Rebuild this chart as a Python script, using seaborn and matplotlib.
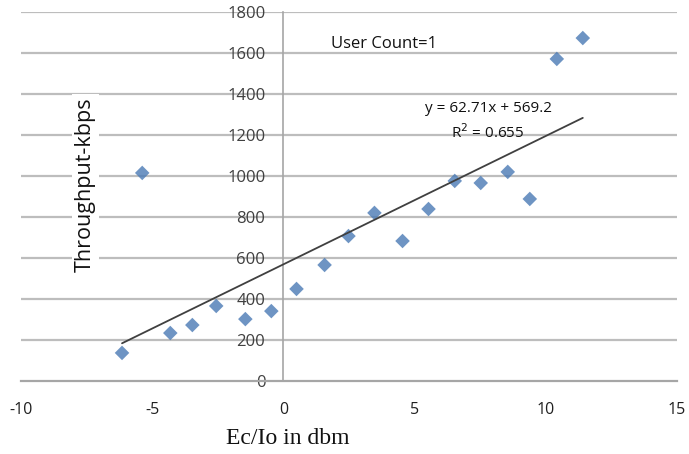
import numpy as np
import pandas as pd
import seaborn as sns
import matplotlib
matplotlib.use("Agg")
import matplotlib.pyplot as plt

ec_io = [-6.15, -5.38, -4.31, -3.47, -2.56, -1.45, -0.46, 0.50, 1.57, 2.48,
         3.47, 4.54, 5.53, 6.53, 7.52, 8.55, 9.39, 10.42, 11.41]
throughput = [137, 1015, 234, 273, 366, 302, 341, 449, 566, 707,
              820, 683, 839, 976, 966, 1020, 888, 1571, 1673]
x_ticks = [-10, -5, 0, 5, 10, 15]
y_ticks = [0, 200, 400, 600, 800, 1000, 1200, 1400, 1600, 1800]

df = pd.DataFrame({"ec_io": ec_io, "throughput": throughput})

sns.set_style("white")
plt.rcParams["font.family"] = ["Open Sans", "DejaVu Sans"]

fig = plt.figure(figsize=(6.89, 4.54), dpi=100)
ax = fig.add_axes([21 / 689, 1 - 381 / 454, (677 - 21) / 689, (381 - 12) / 454])

for yv in y_ticks[1:]:
    ax.axhline(yv, color="#bdbdbd", lw=1.6, zorder=0)

sns.regplot(data=df, x="ec_io", y="throughput", ci=None, ax=ax, marker="D",
            scatter_kws=dict(s=55, color="#4a7ab5", edgecolor="none", zorder=3),
            line_kws=dict(color="#404040", lw=1.3, zorder=4), truncate=True)

ax.set_xlim(-10, 15)
ax.set_ylim(0, 1800)
ax.set_xticks(x_ticks)
ax.set_yticks(y_ticks)
ax.set_xticklabels([str(t) for t in x_ticks])
ax.set_yticklabels([str(t) for t in y_ticks])
ax.set_xlabel("")
ax.set_ylabel("")

for s in ["top", "right"]:
    ax.spines[s].set_visible(False)
ax.spines["left"].set_position(("data", 0))
ax.spines["bottom"].set_position(("data", 0))
ax.spines["left"].set_color("#a6a6a6")
ax.spines["bottom"].set_color("#a6a6a6")
ax.spines["left"].set_linewidth(1.2)
ax.spines["bottom"].set_linewidth(1.6)

ax.tick_params(axis="x", direction="out", length=5, color="#a6a6a6",
               labelsize=11.5, pad=10, labelcolor="#202020")
ax.tick_params(axis="y", direction="out", length=4, color="#a6a6a6",
               labelsize=12, pad=9, labelcolor="#404040")

ax.text(-7.55, 960, "Throughput-kbps", rotation=90, ha="center", va="center",
        fontsize=15.5, color="#111111",
        bbox=dict(facecolor="white", edgecolor="none", pad=2), zorder=5)

fig.text(0.417, 0.035, "Ec/Io in dbm", ha="center", va="center",
         fontsize=17, family="Liberation Serif", color="#111111")

ax.text(1.8, 1645, "User Count=1", ha="left", va="center", fontsize=12,
        color="#111111")
ax.text(7.8, 1330, "y = 62.71x + 569.2", ha="center", va="center",
        fontsize=11, color="#111111")
ax.text(7.8, 1210, "R$^2$ = 0.655", ha="center", va="center",
        fontsize=11, color="#111111")

fig.savefig("out.png", dpi=100)
